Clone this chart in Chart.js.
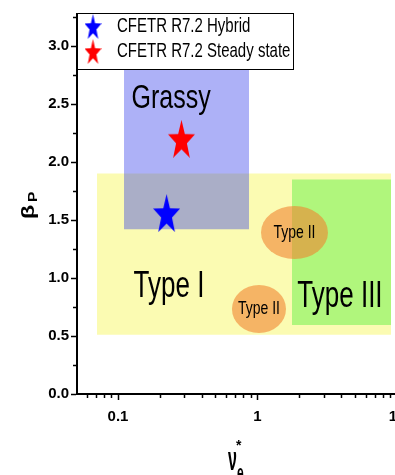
<!DOCTYPE html>
<html>
<head>
<meta charset="utf-8">
<script src="https://cdn.jsdelivr.net/npm/chart.js@4.4.1/dist/chart.umd.min.js"></script>
<style>
  html, body { margin: 0; padding: 0; background: #fff; overflow: hidden; }
  #wrap { position: absolute; left: 0; top: 0; width: 410px; height: 475px; }
</style>
</head>
<body>
<div id="wrap"><canvas id="chart" width="410" height="475"></canvas></div>
<script>
  // ---- data ----
  var seriesNames = ["CFETR R7.2 Hybrid", "CFETR R7.2 Steady state"];
  var hybridNu = [0.223];
  var hybridBeta = [1.56];
  var steadyNu = [0.285];
  var steadyBeta = [2.20];

  // ELM regimes: nu* range and beta_p range of each box
  var regionNames = ["Type I", "Type III", "Grassy"];
  var regionNu = [[0.0707, 9.06], [1.767, 9.06], [0.1104, 0.869]];
  var regionBeta = [[0.51, 1.90], [0.595, 1.85], [1.42, 2.80]];

  // Type II islands (ellipses), nu* range and beta_p range
  var typeIINames = ["Type II", "Type II"];
  var typeIINu = [[1.059, 3.20], [0.656, 1.60]];
  var typeIIBeta = [[1.164, 1.621], [0.526, 0.940]];

  // axes
  var xMajorValues = [0.1, 1, 10];
  var xTickLabels = ["0.1", "1", "10"];
  var xMinorValues = [0.06, 0.07, 0.08, 0.09, 0.2, 0.3, 0.4, 0.5, 0.6, 0.7, 0.8, 0.9, 2, 3, 4, 5, 6, 7, 8, 9];
  var yMajorValues = [0, 0.5, 1.0, 1.5, 2.0, 2.5, 3.0];
  var yTickLabels = ["0.0", "0.5", "1.0", "1.5", "2.0", "2.5", "3.0"];
  var yMinorValues = [0.25, 0.75, 1.25, 1.75, 2.25, 2.75, 3.25];

  var FONT = "'Liberation Sans', Arial, sans-serif";

  // filled 5 point star, drawn a bit taller than wide like the original
  function makeStar(color, w, h) {
    var c = document.createElement("canvas");
    c.width = w;
    c.height = h;
    var g = c.getContext("2d");
    var sx = w / (2 * Math.sin(2 * Math.PI / 5));
    var sy = h / (1 + Math.cos(Math.PI / 5));
    g.beginPath();
    for (var i = 0; i < 10; i++) {
      var r = i % 2 ? 0.4 : 1;
      var a = -Math.PI / 2 + i * Math.PI / 5;
      var px = w / 2 + Math.cos(a) * r * sx;
      var py = sy + Math.sin(a) * r * sy;
      if (i === 0) g.moveTo(px, py); else g.lineTo(px, py);
    }
    g.closePath();
    g.fillStyle = color;
    g.fill();
    return c;
  }

  var starColors = ["#0000ff", "#ff0000"];
  var bigStars = [makeStar(starColors[0], 27, 38), makeStar(starColors[1], 27, 38)];
  var smallStars = [makeStar(starColors[0], 17, 25), makeStar(starColors[1], 17, 25)];

  var regionColors = ["rgb(251,251,178)", "rgb(176,246,124)", "rgba(40,50,234,0.38)"];

  function toPoints(xs, ys) {
    return xs.map(function(x, i) { return { x: x, y: ys[i] }; });
  }

  // one filled line dataset per box: top edge filled down to the bottom value
  var datasets = [];
  regionNames.forEach(function(name, i) {
    datasets.push({
      type: "line",
      label: name,
      data: [
        { x: regionNu[i][0], y: regionBeta[i][1] },
        { x: regionNu[i][1], y: regionBeta[i][1] }
      ],
      borderColor: "transparent",
      borderWidth: 0,
      pointRadius: 0,
      backgroundColor: regionColors[i],
      fill: { value: regionBeta[i][0] },
      order: 10 - i
    });
  });
  datasets.push({
    label: seriesNames[0],
    data: toPoints(hybridNu, hybridBeta),
    pointStyle: bigStars[0],
    order: 1
  });
  datasets.push({
    label: seriesNames[1],
    data: toPoints(steadyNu, steadyBeta),
    pointStyle: bigStars[1],
    order: 0
  });

  function stretchedText(ctx, text, x, y, font, sy, align) {
    ctx.save();
    ctx.font = font;
    ctx.textAlign = align || "center";
    ctx.textBaseline = "alphabetic";
    ctx.fillStyle = "#000";
    ctx.translate(x, y);
    ctx.scale(1, sy);
    ctx.fillText(text, 0, 0);
    ctx.restore();
  }

  // where the region names sit (data units: nu*, beta_p of baseline)
  var regionLabelAt = {
    "Type I": [0.232, 0.836, 26, 1.45],
    "Type III": [3.90, 0.75, 26, 1.45],
    "Grassy": [0.240, 2.466, 25, 1.3]
  };

  var overlayPlugin = {
    id: "overlay",
    afterDatasetsDraw: function(chart) {
      var ctx = chart.ctx;
      var xs = chart.scales.x, ys = chart.scales.y;

      // Type II ellipses
      typeIINames.forEach(function(name, i) {
        var x0 = xs.getPixelForValue(typeIINu[i][0]);
        var x1 = xs.getPixelForValue(typeIINu[i][1]);
        var y0 = ys.getPixelForValue(typeIIBeta[i][0]);
        var y1 = ys.getPixelForValue(typeIIBeta[i][1]);
        var cx = (x0 + x1) / 2, cy = (y0 + y1) / 2;
        ctx.save();
        ctx.beginPath();
        ctx.ellipse(cx, cy, Math.abs(x1 - x0) / 2, Math.abs(y0 - y1) / 2, 0, 0, 2 * Math.PI);
        ctx.fillStyle = "rgba(241,129,45,0.58)";
        ctx.fill();
        ctx.restore();
        stretchedText(ctx, name, cx, cy + 5.5, "14px " + FONT, 1.3);
      });

      // region names
      regionNames.forEach(function(name) {
        var p = regionLabelAt[name];
        stretchedText(ctx, name, xs.getPixelForValue(p[0]), ys.getPixelForValue(p[1]),
          p[2] + "px " + FONT, p[3]);
      });
    },
    afterDraw: function(chart) {
      var ctx = chart.ctx;
      var area = chart.chartArea;

      // legend box in the top left corner of the plot
      ctx.save();
      ctx.fillStyle = "#fff";
      ctx.fillRect(area.left, 13, 216, 56);
      ctx.strokeStyle = "#000";
      ctx.lineWidth = 1;
      ctx.strokeRect(area.left + 0.5, 13.5, 216, 56);
      ctx.restore();
      seriesNames.forEach(function(name, i) {
        var rowY = 32 + i * 25;
        var img = smallStars[i];
        ctx.drawImage(img, area.left + 16 - img.width / 2, rowY - 5.5 - img.height / 2);
        stretchedText(ctx, name, area.left + 40, rowY, "15px " + FONT, 1.4, "left");
      });

      // y title: beta_P
      ctx.save();
      ctx.fillStyle = "#000";
      ctx.translate(34, 219);
      ctx.rotate(-Math.PI / 2);
      ctx.scale(1.3, 1);
      ctx.textAlign = "left";
      ctx.textBaseline = "alphabetic";
      ctx.font = "bold 18px " + FONT;
      ctx.fillText("\u03b2", 0, 0);
      ctx.font = "bold 12px " + FONT;
      ctx.fillText("P", 13, 3);
      ctx.restore();

      // x title: nu_e*
      stretchedText(ctx, "\u03bd", 228, 470, "bold 16px " + FONT, 2.1, "left");
      stretchedText(ctx, "e", 237, 480, "bold 12px " + FONT, 1.8, "left");
      stretchedText(ctx, "*", 236, 450, "bold 14px " + FONT, 1, "left");
    }
  };

  function minorDashX(c) {
    return c.tick && xMajorValues.indexOf(c.tick.value) < 0 ? [3, 20] : [];
  }
  function minorDashY(c) {
    return c.tick && yMajorValues.indexOf(c.tick.value) < 0 ? [0, 2, 3, 20] : [];
  }

  new Chart(document.getElementById("chart"), {
    type: "scatter",
    data: { datasets: datasets },
    plugins: [overlayPlugin],
    options: {
      responsive: false,
      animation: false,
      devicePixelRatio: 1,
      events: [],
      layout: { padding: { top: 14, left: 0, right: 13, bottom: 0 } },
      plugins: {
        legend: { display: false },
        tooltip: { enabled: false }
      },
      scales: {
        x: {
          type: "logarithmic",
          min: 0.0508,
          max: 10,
          afterBuildTicks: function(scale) {
            scale.ticks = xMinorValues.concat(xMajorValues)
              .sort(function(a, b) { return a - b; })
              .map(function(v) { return { value: v }; });
          },
          afterFit: function(scale) {
            scale.height = 81;
            scale.paddingLeft = 0;
            scale.paddingRight = 0;
          },
          ticks: {
            autoSkip: false,
            maxRotation: 0,
            minRotation: 0,
            padding: 8,
            color: "#000",
            font: { family: FONT, size: 15, weight: "bold" },
            callback: function(value) {
              var k = xMajorValues.indexOf(value);
              return k < 0 ? "" : xTickLabels[k];
            }
          },
          grid: {
            drawOnChartArea: false,
            drawTicks: true,
            tickLength: 6,
            tickWidth: 1.5,
            tickColor: "#000",
            tickBorderDash: minorDashX
          },
          border: { display: true, color: "#000", width: 2 }
        },
        y: {
          type: "linear",
          min: 0,
          max: 3.276,
          afterBuildTicks: function(scale) {
            scale.ticks = yMinorValues.concat(yMajorValues)
              .sort(function(a, b) { return a - b; })
              .map(function(v) { return { value: v }; });
          },
          afterFit: function(scale) {
            scale.width = 77;
            scale.paddingTop = 0;
            scale.paddingBottom = 0;
          },
          ticks: {
            autoSkip: false,
            padding: 2,
            color: "#000",
            font: { family: FONT, size: 15, weight: "bold" },
            callback: function(value) {
              var k = yMajorValues.indexOf(value);
              return k < 0 ? "" : yTickLabels[k];
            }
          },
          grid: {
            drawOnChartArea: false,
            drawTicks: true,
            tickLength: 6,
            tickWidth: 1.5,
            tickColor: "#000",
            tickBorderDash: minorDashY
          },
          border: { display: true, color: "#000", width: 2 }
        }
      }
    }
  });
</script>
</body>
</html>
